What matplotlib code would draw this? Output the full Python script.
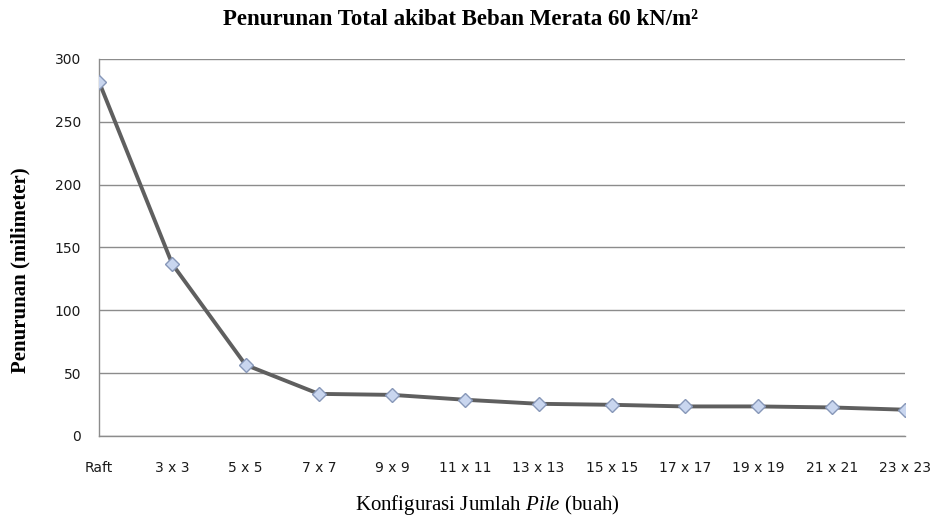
import matplotlib
matplotlib.use("Agg")
import matplotlib.pyplot as plt

# data
configs = ["Raft", "3 x 3", "5 x 5", "7 x 7", "9 x 9", "11 x 11", "13 x 13",
           "15 x 15", "17 x 17", "19 x 19", "21 x 21", "23 x 23"]
settlement = [281.8, 136.7, 56.5, 33.4, 32.6, 28.7, 25.5, 24.7, 23.4, 23.4, 22.6, 20.8]
y_ticks = [0, 50, 100, 150, 200, 250, 300]

plt.rcParams["mathtext.fontset"] = "custom"
plt.rcParams["mathtext.rm"] = "Liberation Serif"
plt.rcParams["mathtext.it"] = "Liberation Serif:italic"

fig = plt.figure(figsize=(9.36, 5.17), dpi=100)
ax = fig.add_axes([0.1058, 0.157, 0.861, 0.729])

x = list(range(len(configs)))
ax.plot(x, settlement, color="#5f5f5f", lw=2.8, zorder=3,
        marker="D", markersize=7, markerfacecolor="#c9d6ef",
        markeredgecolor="#8797b8", markeredgewidth=1.0)

ax.set_xlim(0, len(configs) - 1)
ax.set_ylim(0, 300)
ax.set_yticks(y_ticks)
ax.set_xticks(x)
ax.set_xticklabels(configs)

ax.yaxis.grid(True, color="#8c8c8c", lw=1.0)
ax.set_axisbelow(True)
for s in ["top", "right"]:
    ax.spines[s].set_visible(False)
for s in ["left", "bottom"]:
    ax.spines[s].set_color("#8c8c8c")
    ax.spines[s].set_linewidth(1.0)

ax.tick_params(axis="both", length=0, labelsize=10, colors="#1a1a1a")
ax.tick_params(axis="x", pad=18)
ax.tick_params(axis="y", pad=13)

# titles placed in figure coords to match the reference layout
fig.text(0.492, 0.962, "Penurunan Total akibat Beban Merata 60 kN/m²",
         family="Liberation Serif", fontweight="bold", fontsize=16.5,
         ha="center", va="center")
fig.text(0.022, 0.478, "Penurunan (milimeter)", family="Liberation Serif",
         fontweight="bold", fontsize=15, rotation=90, ha="center", va="center")
fig.text(0.521, 0.024, r"Konfigurasi Jumlah $\mathit{Pile}$ (buah)",
         family="Liberation Serif", fontsize=15, ha="center", va="center")

fig.savefig("out.png", dpi=100)
